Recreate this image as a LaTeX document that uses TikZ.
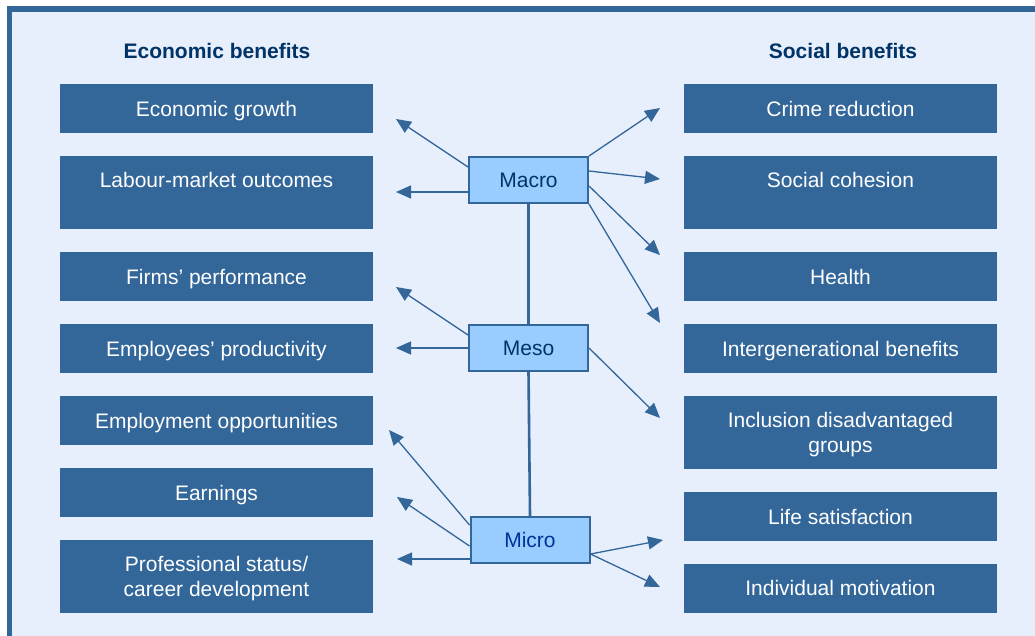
\documentclass[tikz,border=0pt]{standalone}
\usepackage{fontspec}
\setmainfont{Liberation Sans}
\usetikzlibrary{arrows.meta}
\definecolor{bg}{HTML}{E7EEFC}
\definecolor{frame}{HTML}{336699}
\definecolor{boxc}{HTML}{336699}
\definecolor{levelc}{HTML}{99CCFF}
\definecolor{navy}{HTML}{003366}
\definecolor{microtext}{HTML}{003399}
\tikzset{
  box/.style={fill=boxc, text=white, minimum width=313pt, minimum height=49pt, inner sep=0pt, align=center, text height=15pt, text depth=0pt, font=\fontsize{21}{25}\selectfont},
  tallbox/.style={box, minimum height=73pt, text height=40pt},
  level/.style={draw=frame, fill=levelc, line width=2pt, minimum width=119pt, minimum height=46pt, inner sep=0pt, text=navy, text height=15pt, text depth=0pt, font=\fontsize{21}{25}\selectfont},
  head/.style={text=navy, inner sep=0pt, text height=15pt, text depth=0pt, font=\bfseries\fontsize{21}{25}\selectfont},
  arr/.style={draw=frame, line width=1.3pt, -{Triangle[length=15pt,width=13pt]}},
  link/.style={draw=frame, line width=2.6pt},
}

\begin{document}
\begin{tikzpicture}[x=1pt,y=-1pt]
  \useasboundingbox (0,0) rectangle (1035,635);
  \fill[white] (0,0) rectangle (1035,635);
  \begin{scope}
    \clip (0,0) rectangle (1035,635);
    \draw[draw=frame, fill=bg, line width=5.5pt] (9.5,9) rectangle (1050,650);
  \end{scope}

  % headings
  \node[head] (ecohead) at (217,51) {Economic benefits};
  \node[head] (sochead) at (843,51) {Social benefits};

  % economic benefits
  \node[box] (growth) at (216.5,108.5) {Economic growth};
  \node[tallbox] (labour) at (216.5,192.5) {Labour-market outcomes\\\mbox{}};
  \node[box] (firms) at (216.5,276.5) {Firms’ performance};
  \node[box] (staff) at (216.5,348.5) {Employees’ productivity};
  \node[box] (jobs) at (216.5,420.5) {Employment opportunities};
  \node[box] (earn) at (216.5,492.5) {Earnings};
  \node[tallbox] (career) at (216.5,576.5) {Professional status/\\career development};

  % social benefits
  \node[box] (crime) at (840.5,108.5) {Crime reduction};
  \node[tallbox] (cohesion) at (840.5,192.5) {Social cohesion\\\mbox{}};
  \node[box] (health) at (840.5,276.5) {Health};
  \node[box] (gener) at (840.5,348.5) {Intergenerational benefits};
  \node[tallbox] (incl) at (840.5,432.5) {Inclusion disadvantaged\\groups};
  \node[box] (life) at (840.5,516.5) {Life satisfaction};
  \node[box] (motiv) at (840.5,588) {Individual motivation};

  % levels
  \node[level] (macro) at (528.5,180) {Macro};
  \node[level] (meso) at (528.5,348) {Meso};
  \node[level, text=microtext] (micro) at (530,540) {Micro};
  \draw[link] (macro.south) -- (meso.north);
  \draw[link] (meso.south) -- (micro.north);

  % arrow tips
  \coordinate (t-growth) at (396,119);
  \coordinate (t-labour) at (396,192);
  \coordinate (t-firms) at (396,287);
  \coordinate (t-staff) at (396,348);
  \coordinate (t-jobs) at (389,430);
  \coordinate (t-earn) at (397,497);
  \coordinate (t-career) at (397,559);
  \coordinate (t-crime) at (660,108);
  \coordinate (t-cohesion) at (660,179);
  \coordinate (t-health) at (660,255);
  \coordinate (t-gener) at (660,323);
  \coordinate (t-incl) at (660,418);
  \coordinate (t-life) at (663,540);
  \coordinate (t-motiv) at (660,587);

  % Macro
  \draw[arr] ([yshift=13pt]macro.west) -- (t-growth);
  \draw[arr] ([yshift=-12pt]macro.west) -- (t-labour);
  \draw[arr] (macro.north east) -- (t-crime);
  \draw[arr] ([yshift=9pt]macro.east) -- (t-cohesion);
  \draw[arr] ([yshift=-6pt]macro.east) -- (t-health);
  \draw[arr] (macro.south east) -- (t-gener);

  % Meso
  \draw[arr] ([yshift=13pt]meso.west) -- (t-firms);
  \draw[arr] (meso.west) -- (t-staff);
  \draw[arr] (meso.east) -- (t-incl);

  % Micro
  \draw[arr] ([yshift=15pt]micro.west) -- (t-jobs);
  \draw[arr] ([yshift=-6pt]micro.west) -- (t-earn);
  \draw[arr] ([yshift=-19pt]micro.west) -- (t-career);
  \draw[arr] ([yshift=-14pt]micro.east) -- (t-life);
  \draw[arr] ([yshift=-14pt]micro.east) -- (t-motiv);
\end{tikzpicture}
\end{document}
